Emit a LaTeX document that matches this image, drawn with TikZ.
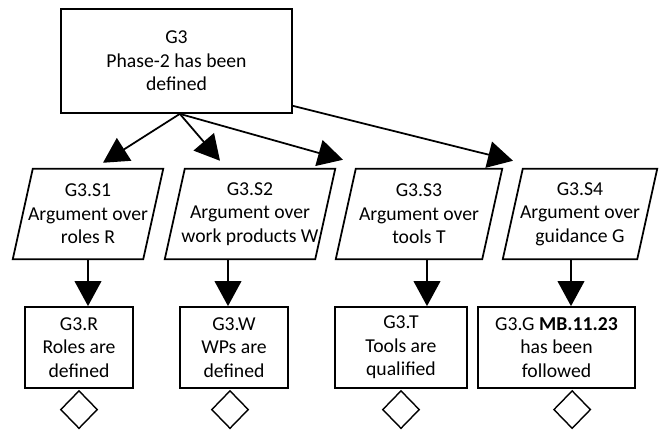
\documentclass[tikz,border=0pt]{standalone}
\usepackage{fontspec}
\setmainfont{Carlito}
\usetikzlibrary{positioning, shapes.geometric, arrows.meta, calc}

\tikzset{
  goal/.style={draw, line width=1.5pt, align=center, inner sep=0pt},
  argtext/.style={align=center, inner sep=0pt, minimum height=2.7cm},
  solved/.style={draw, diamond, line width=1.2pt, inner sep=0pt, minimum width=1.11cm, minimum height=1.14cm},
  link/.style={line width=1.5pt, -{Triangle[length=0.75cm, width=0.8cm]}},
}

\begin{document}
\begin{tikzpicture}[x=0.03cm, y=-0.03cm, font=\fontsize{16.8}{20}\selectfont]
          \useasboundingbox (0,0) rectangle (662,431);

          % 子圖形 g3 (類型: goal)
          \begin{scope}
            % 頂層目標
            \node[goal, minimum width=6.93cm, minimum height=3.12cm] (g3) at (176.5,61) {G3\\Phase-2 has been\\defined};
          \end{scope}

          % 子圖形 strategies (類型: strategy)
          \begin{scope}
            % 策略
            \node[argtext, minimum width=3.9cm] (s1) at (88,214) {G3.S1\\Argument over\\roles R};
            \node[argtext, minimum width=4.5cm] (s2) at (250,214) {G3.S2\\Argument over\\work products W};
            \node[argtext, minimum width=4.38cm] (s3) at (419,214) {G3.S3\\Argument over\\tools T};
            \node[argtext, minimum width=4.02cm] (s4) at (580,214) {G3.S4\\Argument over\\guidance G};
            \foreach \s in {s1,s2,s3,s4}
              \draw[line width=1.5pt] ([xshift=0.3cm]\s.north west) -- ([xshift=0.3cm]\s.north east)
                -- ([xshift=-0.3cm]\s.south east) -- ([xshift=-0.3cm]\s.south west) -- cycle;
          \end{scope}

          % 子圖形 subgoals (類型: goal)
          \begin{scope}
            % 子目標
            \node[goal, minimum width=3.24cm, minimum height=2.43cm] (r) at (79,347.5) {G3.R\\Roles are\\defined};
            \node[goal, minimum width=3.24cm, minimum height=2.43cm] (w) at (234,347.5) {G3.W\\WPs are\\defined};
            \node[goal, minimum width=3.96cm, minimum height=2.43cm] (t) at (401,347.5) {G3.T\\Tools are\\qualified};
            \node[goal, minimum width=4.71cm, minimum height=2.43cm] (g) at (556.5,347.5) {G3.G \textbf{MB.11.23}\\has been\\followed};
          \end{scope}

          % 子圖形 undeveloped (類型: diamond)
          \begin{scope}
            % 未展開
            \node[solved, below=0.03cm of r] (rd) {};
            \node[solved, below=0.03cm of w, xshift=-0.12cm] (wd) {};
            \node[solved, below=0.03cm of t] (td) {};
            \node[solved, below=0.03cm of g, xshift=0.47cm] (gd) {};
          \end{scope}

          % 子圖形 links (類型: arrow)
          \begin{scope}
            % 上層箭頭
            \draw[link] ([xshift=0.1cm]g3.south) -- ([xshift=0.45cm, yshift=0.18cm]s1.north);
            \draw[link] ([xshift=0.1cm]g3.south) -- ([xshift=-0.9cm, yshift=0.24cm]s2.north);
            \draw[link] ([xshift=0.1cm]g3.south) -- ([xshift=-2.28cm, yshift=0.27cm]s3.north);
            \draw[link] ([yshift=0.24cm]g3.south east) -- ([xshift=-2.01cm, yshift=0.24cm]s4.north);
            % 下層箭頭
            \draw[link] (s1.south) -- (s1.south |- r.north);
            \draw[link] ([xshift=-0.66cm]s2.south) -- ([xshift=-0.66cm]s2.south |- w.north);
            \draw[link] ([xshift=0.24cm]s3.south) -- ([xshift=0.24cm]s3.south |- t.north);
            \draw[link] ([xshift=-0.27cm]s4.south) -- ([xshift=-0.27cm]s4.south |- g.north);
          \end{scope}
        \end{tikzpicture}
\end{document}
